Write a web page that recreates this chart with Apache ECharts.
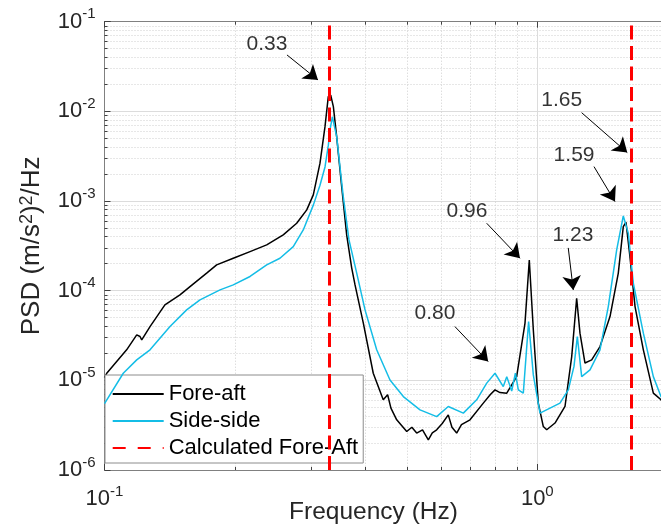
<!DOCTYPE html>
<html><head><meta charset="utf-8">
<script src="https://cdn.jsdelivr.net/npm/echarts@6/dist/echarts.min.js"></script>
<style>html,body{margin:0;padding:0;background:#fff}#c{width:661px;height:524px}</style>
</head><body><div id="c"></div>
<script>
// ---- data ----
const foreAftFreq = [0.100,0.1012,0.1125,0.1187,0.1208,0.1219,0.1274,0.1379,0.1494,0.1576,0.1722,0.1816,0.1984,0.2169,0.2370,0.2588,0.2780,0.2933,0.3037,0.3147,0.3232,0.3289,0.3332,0.3379,0.3439,0.3532,0.3627,0.3725,0.3792,0.3963,0.4178,0.4406,0.4510,0.4590,0.4733,0.4993,0.5130,0.5264,0.5430,0.5600,0.5720,0.5855,0.6030,0.6227,0.6350,0.6512,0.6680,0.6991,0.7503,0.7800,0.7985,0.8200,0.8500,0.8960,0.9367,0.9583,0.9790,1.0053,1.0325,1.0513,1.0987,1.1588,1.2009,1.233,1.2549,1.2888,1.3356,1.3959,1.4723,1.5387,1.5801,1.603,1.637,1.682,1.758,1.854,1.931,2.0];
const foreAftPSD  = [1.07e-5,1.20e-5,2.19e-5,3.21e-5,3.08e-5,2.82e-5,3.98e-5,6.95e-5,8.97e-5,1.11e-4,1.57e-4,1.94e-4,2.30e-4,2.73e-4,3.24e-4,4.19e-4,5.65e-4,7.96e-4,1.17e-3,2.64e-3,6.75e-3,1.46e-2,1.52e-2,1.13e-2,5.22e-3,1.45e-3,4.19e-4,1.80e-4,1.16e-4,4.35e-5,1.20e-5,6.07e-6,6.9e-6,4.9e-6,3.63e-6,2.69e-6,3.0e-6,2.58e-6,2.8e-6,2.17e-6,2.6e-6,2.81e-6,3.3e-6,4.12e-6,3.0e-6,2.58e-6,3.2e-6,3.63e-6,5.57e-6,7.0e-6,7.83e-6,7.3e-6,7.19e-6,1.10e-5,4.35e-5,2.20e-4,3.66e-5,5.57e-6,3.05e-6,2.81e-6,3.34e-6,5.11e-6,1.84e-5,8.24e-5,3.36e-5,1.56e-5,1.69e-5,2.38e-5,5.14e-5,1.57e-4,5.19e-4,5.80e-4,2.40e-4,6.65e-5,2.19e-5,7.19e-6,6.07e-6,4.69e-6];
const sideSideFreq = [0.100,0.1105,0.1187,0.1274,0.1417,0.1548,0.1662,0.1849,0.1984,0.2169,0.2370,0.2543,0.2730,0.2879,0.3037,0.3147,0.3232,0.3290,0.3319,0.3361,0.3439,0.3562,0.3672,0.3826,0.3999,0.4255,0.4567,0.4903,0.5358,0.5855,0.6227,0.6746,0.7244,0.7641,0.7985,0.8345,0.8500,0.8727,0.8900,0.9040,0.9282,0.9548,0.979,1.0145,1.0699,1.1282,1.1793,1.2155,1.2374,1.2663,1.3237,1.3959,1.4588,1.5255,1.5801,1.6228,1.6666,1.758,1.854,1.931,2.0];
const sideSidePSD  = [5.5e-6,1.20e-5,1.69e-5,2.19e-5,3.98e-5,6.11e-5,7.89e-5,1.02e-4,1.16e-4,1.44e-4,1.94e-4,2.30e-4,3.10e-4,4.76e-4,9.0e-4,1.5e-3,2.4e-3,4.2e-3,6.2e-3,8.7e-3,5.22e-3,1.12e-3,3.68e-4,1.57e-4,6.11e-5,2.19e-5,1.01e-5,6.59e-6,4.69e-6,3.94e-6,5.11e-6,4.31e-6,6.07e-6,9.31e-6,1.20e-5,8.53e-6,1.1e-5,7.6e-6,1.2e-5,7.83e-6,7.19e-6,4.52e-5,1.15e-5,4.31e-6,4.90e-6,5.57e-6,7.83e-6,1.43e-5,3.08e-5,1.10e-5,1.31e-5,2.19e-5,6.65e-5,2.85e-4,6.82e-4,4.38e-4,1.21e-4,3.36e-5,1.10e-5,6.59e-6,5.33e-6];
const calcFreqs = [0.33, 1.65];
const annotLabels   = ['0.33','1.65','1.59','0.96','1.23','0.80'];
const annotTextFreq = [0.2374, 1.139, 1.216, 0.688, 1.209, 0.580];
const annotTextPSD  = [0.0564, 0.0134, 3.27e-3, 7.62e-4, 4.19e-4, 5.61e-5];
const arrowFromFreq = [0.264, 1.266, 1.352, 0.764, 1.179, 0.645];
const arrowFromPSD  = [0.0426, 9.67e-3, 2.42e-3, 5.65e-4, 3.00e-4, 3.98e-5];
const arrowToFreq   = [0.3114, 1.614, 1.512, 0.912, 1.211, 0.770];
const arrowToPSD    = [0.0224, 3.47e-3, 9.85e-4, 2.30e-4, 1.02e-4, 1.62e-5];
const xRange = [0.1, 10];
const yRange = [1e-6, 1e-1];

const FONT = 'Liberation Sans, Arial, sans-serif';
const pow10Label = v => {
  const l = Math.log10(v), e = Math.round(l);
  return Math.abs(l - e) < 1e-6 ? '{b|10}{s|' + e + '}' : '';
};
const tickRich = {
  b: {fontSize: 22, fontFamily: FONT, color: '#262626', lineHeight: 30},
  s: {fontSize: 15, fontFamily: FONT, color: '#262626', lineHeight: 15, verticalAlign: 'top'}
};
const axisCommon = {
  type: 'log', logBase: 10,
  axisLine: {show: true, lineStyle: {color: '#808080', width: 1}},
  axisTick: {show: true, inside: true, length: 6, lineStyle: {color: '#404040'}},
  minorTick: {show: true, splitNumber: 9, length: 3, lineStyle: {color: '#404040'}},
};

const chart = echarts.init(document.getElementById('c'), null, {renderer: 'canvas'});
chart.setOption({
  animation: false,
  backgroundColor: '#fff',
  grid: {left: 104.5, top: 21.7, width: 865.6, height: 448.3, containLabel: false, outerBoundsMode: 'none'},
  xAxis: [
    Object.assign({}, axisCommon, {
      position: 'bottom', min: xRange[0], max: xRange[1],
      name: 'Frequency (Hz)', nameLocation: 'middle', nameGap: 30, nameMoveOverlap: false,
      nameTextStyle: {fontSize: 24.5, fontFamily: FONT, color: '#262626', padding: [0, 327.6, 0, 0]},
      axisLabel: {formatter: pow10Label, rich: tickRich, margin: 14},
      splitLine: {show: true, lineStyle: {color: '#dcdcdc', width: 1}},
      minorSplitLine: {show: true, lineStyle: {color: '#cfcfcf', width: 1, type: [1, 2]}}
    }),
    Object.assign({}, axisCommon, {
      position: 'top', min: xRange[0], max: xRange[1],
      axisLabel: {show: false}, splitLine: {show: false}
    })
  ],
  yAxis: [Object.assign({}, axisCommon, {
    position: 'left', min: yRange[0], max: yRange[1],
    name: 'PSD (m/s{s|2}){s|2}/Hz', nameLocation: 'middle', nameGap: 60, nameRotate: 90, nameMoveOverlap: false,
    nameTextStyle: {fontSize: 26, fontFamily: FONT, color: '#262626',
      rich: {s: {fontSize: 18, fontFamily: FONT, color: '#262626', verticalAlign: 'top', lineHeight: 18}}},
    axisLabel: {formatter: pow10Label, rich: tickRich, margin: 9},
    splitLine: {show: true, lineStyle: {color: '#dcdcdc', width: 1}},
    minorSplitLine: {show: true, lineStyle: {color: '#cfcfcf', width: 1, type: [1, 2]}}
  })],
  legend: {
    data: ['Fore-aft', 'Side-side', 'Calculated Fore-Aft'],
    orient: 'vertical', left: 105, top: 375,
    backgroundColor: '#fff', borderColor: '#8c8c8c', borderWidth: 1,
    padding: [6, 5, 2, 6.7], itemWidth: 51, itemHeight: 14, itemGap: 1,
    selectedMode: false,
    itemStyle: {opacity: 0},
    textStyle: {fontSize: 22, fontFamily: FONT, color: '#000', lineHeight: 26}
  },
  series: [
    {
      name: 'Fore-aft', type: 'line', symbol: 'none', z: 3,
      lineStyle: {color: '#000', width: 1.5}, itemStyle: {color: '#000'},
      emphasis: {disabled: true},
      data: foreAftFreq.map((f, i) => [f, foreAftPSD[i]])
    },
    {
      name: 'Side-side', type: 'line', symbol: 'none', z: 4,
      lineStyle: {color: '#14BDE6', width: 1.5}, itemStyle: {color: '#14BDE6'},
      emphasis: {disabled: true},
      data: sideSideFreq.map((f, i) => [f, sideSidePSD[i]])
    },
    {
      name: 'Calculated Fore-Aft', type: 'line', symbol: 'none', z: 6,
      lineStyle: {color: '#ff0000', width: 3, type: [13, 12]}, itemStyle: {color: '#ff0000'},
      data: [],
      markLine: {
        silent: true, symbol: ['none', 'none'], animation: false,
        label: {show: false},
        lineStyle: {color: '#ff0000', width: 3, type: [14, 6.5]},
        emphasis: {disabled: true},
        data: calcFreqs.map(f => ({xAxis: f}))
      }
    },
    {
      name: 'arrows', type: 'line', symbol: 'none', data: [], z: 7,
      markLine: {
        silent: true, symbol: ['none', 'arrow'], symbolSize: 14, animation: false,
        label: {show: false},
        lineStyle: {color: '#000', width: 1, type: 'solid'},
        itemStyle: {color: '#000'},
        emphasis: {disabled: true},
        data: annotLabels.map((t, i) => [
          {coord: [arrowFromFreq[i], arrowFromPSD[i]]},
          {coord: [arrowToFreq[i], arrowToPSD[i]]}
        ])
      }
    },
    {
      name: 'labels', type: 'scatter', symbolSize: 1, z: 8, silent: true,
      itemStyle: {color: 'rgba(0,0,0,0)'},
      emphasis: {disabled: true},
      label: {show: true, position: 'inside', formatter: p => p.data[2],
        fontSize: 21, fontFamily: FONT, color: '#000'},
      data: annotLabels.map((t, i) => [annotTextFreq[i], annotTextPSD[i], t])
    }
  ]
});
</script></body></html>
